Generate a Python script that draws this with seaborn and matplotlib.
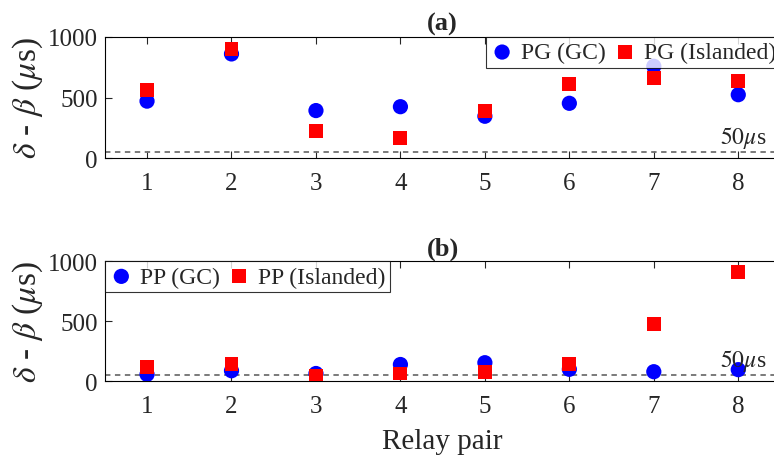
import matplotlib
matplotlib.use("Agg")
import matplotlib.pyplot as plt
import seaborn as sns
import numpy as np

sns.set_style("ticks")
plt.rcParams['font.family'] = ['Liberation Serif', 'DejaVu Serif']
plt.rcParams['mathtext.fontset'] = 'stix'

relay = [1, 2, 3, 4, 5, 6, 7, 8]
pg_gc = [470, 860, 392, 424, 345, 452, 758, 523]
pg_isl = [565, 900, 220, 165, 386, 612, 661, 636]
pp_gc = [58, 88, 65, 140, 155, 100, 80, 97]
pp_isl = [118, 144, 47, 65, 80, 144, 477, 908]
threshold = 50

W, H = 774, 460
fig = plt.figure(figsize=(W / 100, H / 100), dpi=100)

def make_ax(top_px, bot_px):
    left, right = 104.8, 780.5
    return fig.add_axes([left / W, (H - bot_px) / H, (right - left) / W, (bot_px - top_px) / H])

axA = make_ax(38, 159)
axB = make_ax(262.3, 382.3)

panels = [
    (axA, pg_gc, pg_isl, 'PG (GC)', 'PG (Islanded)', '(a)', 'upper right'),
    (axB, pp_gc, pp_isl, 'PP (GC)', 'PP (Islanded)', '(b)', 'upper left'),
]

for ax, gc, isl, lgc, lisl, title, loc in panels:
    ax.axhline(threshold, color='#707070', ls=(0, (3, 2.5)), lw=1.3, zorder=1)
    sns.scatterplot(x=relay, y=gc, ax=ax, color='#0000ff', marker='o', s=120,
                    edgecolor='none', label=lgc, zorder=3)
    sns.scatterplot(x=relay, y=isl, ax=ax, color='#ff0000', marker='s', s=100,
                    edgecolor='none', label=lisl, zorder=3)
    ax.set_xlim(0.5, 8.5)
    ax.set_ylim(0, 1000)
    ax.set_xticks(relay)
    ax.set_yticks([0, 500, 1000])
    ax.tick_params(direction='in', top=True, right=True, labelsize=18, length=5, width=0.8)
    ax.tick_params(axis='x', pad=10)
    ax.tick_params(axis='y', pad=5)
    for s in ax.spines.values():
        s.set_linewidth(0.8)
        s.set_color('black')
    ax.set_ylabel(r'$\delta$ - $\beta$ ($\mu$s)', fontsize=24, labelpad=2)
    ax.set_title(title, fontsize=19, fontweight='bold', pad=5)
    ax.text(7.78, 70, r'$50\mu$s', fontsize=17, va='bottom', ha='left')
    leg = ax.legend(loc=loc, ncol=2, borderaxespad=0, fontsize=17, frameon=True,
                    fancybox=False, edgecolor='black', handletextpad=0.3,
                    columnspacing=0.3, handlelength=1.0, borderpad=0.2)
    leg.get_frame().set_linewidth(0.8)

axB.set_xlabel('Relay pair', fontsize=21, labelpad=8)
axA.set_xlabel('')
fig.savefig('out.png', dpi=100)
